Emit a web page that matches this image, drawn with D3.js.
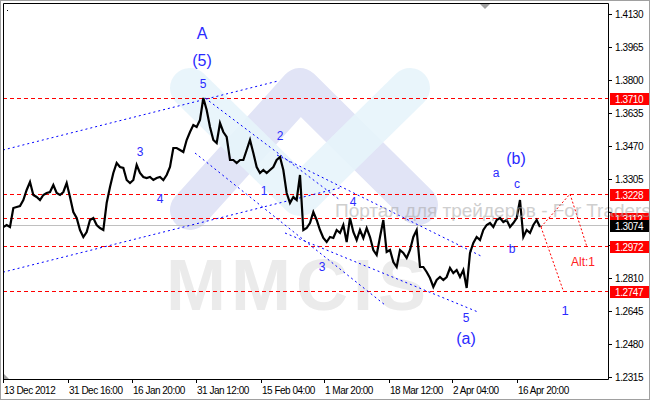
<!DOCTYPE html>
<html>
<head>
<meta charset="utf-8">
<script src="https://cdn.jsdelivr.net/npm/d3@7"></script>
<style>
  html, body { margin: 0; padding: 0; background: #fff; }
  svg { display: block; font-family: "Liberation Sans", Arial, sans-serif; }
</style>
</head>
<body>
<svg id="chart" width="650" height="400"></svg>
<script>
// H4 closes, one value per bar
const closes = [
  1.3065, 1.3075, 1.3065, 1.3160, 1.3165, 1.3170, 1.3200, 1.3250, 1.3290, 1.3225,
  1.3215, 1.3200, 1.3225, 1.3235, 1.3240, 1.3275, 1.3235, 1.3225, 1.3240, 1.3285,
  1.3215, 1.3140, 1.3110, 1.3050, 1.3015, 1.3040, 1.3100, 1.3110, 1.3075, 1.3060,
  1.3050, 1.3185, 1.3265, 1.3335, 1.3385, 1.3365, 1.3360, 1.3300, 1.3285, 1.3300,
  1.3375, 1.3335, 1.3315, 1.3310, 1.3315, 1.3300, 1.3310, 1.3315, 1.3300, 1.3325,
  1.3365, 1.3460, 1.3460, 1.3450, 1.3440, 1.3500, 1.3540, 1.3575, 1.3565, 1.3600,
  1.3710, 1.3650, 1.3565, 1.3500, 1.3485, 1.3585, 1.3540, 1.3515, 1.3400, 1.3400,
  1.3385, 1.3400, 1.3400, 1.3450, 1.3500, 1.3435, 1.3365, 1.3335, 1.3350, 1.3335,
  1.3350, 1.3365, 1.3400, 1.3415, 1.3350, 1.3235, 1.3185, 1.3215, 1.3200, 1.3325,
  1.3050, 1.3060, 1.3085, 1.3140, 1.3100, 1.3050, 1.3010, 1.2990, 1.3015, 1.3010,
  1.3050, 1.3035, 1.3075, 1.2990, 1.3110, 1.3040, 1.3000, 1.3050, 1.3010, 1.3060,
  1.3015, 1.2950, 1.2925, 1.3015, 1.3100, 1.2940, 1.2950, 1.2890, 1.2865, 1.2950,
  1.2935, 1.2910, 1.2950, 1.3015, 1.3050, 1.2865, 1.2865, 1.2840, 1.2810, 1.2765,
  1.2800, 1.2815, 1.2800, 1.2815, 1.2860, 1.2835, 1.2850, 1.2815, 1.2850, 1.2760,
  1.2935, 1.2985, 1.3015, 1.3000, 1.3050, 1.3075, 1.3085, 1.3065, 1.3100, 1.3110,
  1.3090, 1.3100, 1.3065, 1.3085, 1.3110, 1.3200, 1.3015, 1.3050, 1.3035, 1.3075,
  1.3100, 1.3065
]
const firstBar = 1

const dateLabels = ["13 Dec 2012", "31 Dec 16:00", "16 Jan 20:00", "31 Jan 12:00", "15 Feb 04:00",
  "1 Mar 20:00", "18 Mar 12:00", "2 Apr 04:00", "16 Apr 20:00"]
const dateTickBars = [0.9, 20.4, 39.6, 58.8, 78.3, 97.2, 116.7, 135.6, 155.1]

const priceTicks = [1.2315, 1.2480, 1.2645, 1.2810, 1.2975, 1.3140, 1.3305, 1.3470, 1.3635, 1.3800, 1.3965, 1.4130]
const levelPrices = [1.3710, 1.3228, 1.3112, 1.2972, 1.2747]
const lastPrice = 1.3074

// trend channels, [bar, price] end points
const channelLines = [
  [[0.9, 1.3450], [83.4, 1.3795]],
  [[0.9, 1.2839], [102.0, 1.3261]],
  [[61.5, 1.3710], [102.0, 1.3200]],
  [[58.5, 1.3435], [115.5, 1.2675]],
  [[83.1, 1.3425], [144.9, 1.2915]],
  [[85.5, 1.3035], [143.4, 1.2640]]
]
// forecast paths
const forecastPaths = [
  [[162.3, 1.3065], [171.0, 1.3230], [176.1, 1.2965]],
  [[162.3, 1.3065], [168.9, 1.2750]]
]

const waveLabels = [
  {text: "A", bar: 60.6, price: 1.4035, degree: "major"},
  {text: "(5)", bar: 60.6, price: 1.3900, degree: "major"},
  {text: "5", bar: 60.9, price: 1.3780, degree: "minor"},
  {text: "3", bar: 42.0, price: 1.3440, degree: "minor"},
  {text: "4", bar: 48.0, price: 1.3205, degree: "minor"},
  {text: "1", bar: 79.2, price: 1.3245, degree: "minor"},
  {text: "2", bar: 84.0, price: 1.3520, degree: "minor"},
  {text: "3", bar: 96.6, price: 1.2865, degree: "minor"},
  {text: "4", bar: 105.9, price: 1.3190, degree: "minor"},
  {text: "5", bar: 139.8, price: 1.2610, degree: "minor"},
  {text: "(a)", bar: 139.8, price: 1.2510, degree: "major"},
  {text: "a", bar: 148.8, price: 1.3335, degree: "minor"},
  {text: "b", bar: 153.6, price: 1.2955, degree: "minor"},
  {text: "c", bar: 155.1, price: 1.3280, degree: "minor"},
  {text: "(b)", bar: 154.8, price: 1.3410, degree: "major"},
  {text: "1", bar: 169.5, price: 1.2650, degree: "target"},
  {text: "Alt:1", bar: 174.9, price: 1.2890, degree: "alt"}
]

const W = 650, H = 400
const plot = {left: 3, top: 3, right: 608, bottom: 379}

const svg = d3.select("#chart")

const x = d3.scaleLinear().domain([0, 182.4]).range([0, 608])
const y = d3.scaleLinear().domain([1.2315, 1.4130]).range([377, 14])
const py = p => Math.round(y(p)) + 0.5

svg.append("rect").attr("width", W).attr("height", H).attr("fill", "#fff")

svg.append("defs").append("clipPath").attr("id", "plotClip")
  .append("rect")
  .attr("x", plot.left).attr("y", plot.top)
  .attr("width", plot.right - plot.left).attr("height", plot.bottom - plot.top)

// watermark logo
const logo = svg.append("g").attr("clip-path", "url(#plotClip)")
logo.append("path")
  .attr("d", "M190,210 L300,88 L418,205")
  .attr("fill", "none").attr("stroke", "#e1e4f6").attr("stroke-width", 40)
  .attr("stroke-linecap", "round").attr("stroke-linejoin", "round")
logo.append("path")
  .attr("d", "M190,88 L300,196 L410,88")
  .attr("fill", "none").attr("stroke", "#e7f4fb").attr("stroke-width", 40)
  .attr("stroke-linecap", "round").attr("stroke-linejoin", "round")
  .attr("opacity", 0.9)
logo.append("text")
  .attr("x", 166).attr("y", 310)
  .attr("font-size", 72).attr("font-weight", "bold").attr("letter-spacing", 5)
  .attr("fill", "#ebebeb")
  .text("MMCIS")

const g = svg.append("g").attr("clip-path", "url(#plotClip)")

// last price line
g.append("line")
  .attr("x1", plot.left).attr("x2", plot.right)
  .attr("y1", py(lastPrice)).attr("y2", py(lastPrice))
  .attr("stroke", "#c0c0c0")

// horizontal levels
g.selectAll(".level").data(levelPrices).join("line")
  .attr("class", "level")
  .attr("x1", plot.left).attr("x2", plot.right)
  .attr("y1", py).attr("y2", py)
  .attr("stroke", "#ff0000").attr("stroke-dasharray", "4,3")

// channels
g.selectAll(".channel").data(channelLines).join("line")
  .attr("class", "channel")
  .attr("x1", d => x(d[0][0])).attr("y1", d => y(d[0][1]))
  .attr("x2", d => x(d[1][0])).attr("y2", d => y(d[1][1]))
  .attr("stroke", "#0000ff").attr("stroke-dasharray", "2,3")

// forecast
const fLine = d3.line().x(d => x(d[0])).y(d => y(d[1]))
g.selectAll(".forecast").data(forecastPaths).join("path")
  .attr("class", "forecast")
  .attr("d", fLine)
  .attr("fill", "none").attr("stroke", "#ff0000").attr("stroke-dasharray", "2,2")

// right price axis
const tags = levelPrices.map(p => ({price: p, color: "#ff0000"}))
  .concat([{price: lastPrice, color: "#000"}])
// tick labels hidden under a price tag are not drawn (they'd be covered anyway)
const freeTicks = priceTicks.filter(t => tags.every(tg => Math.abs(y(t) - y(tg.price)) > 9))

const axisG = svg.append("g")
axisG.selectAll(".ptick").data(priceTicks).join("line")
  .attr("x1", plot.right).attr("x2", plot.right + 4)
  .attr("y1", py).attr("y2", py)
  .attr("stroke", "#000")
axisG.selectAll(".plabel").data(freeTicks).join("text")
  .attr("x", plot.right + 7).attr("y", d => y(d) + 4)
  .attr("font-size", 10).attr("letter-spacing", -0.4)
  .attr("fill", "#000")
  .text(d => d.toFixed(4))

const tag = axisG.selectAll(".tag").data(tags).join("g")
  .attr("transform", d => `translate(${plot.right + 2},${Math.round(y(d.price)) - 5})`)
tag.append("rect").attr("width", 40).attr("height", 12).attr("fill", d => d.color)
tag.append("text").attr("x", 5).attr("y", 10)
  .attr("font-size", 10).attr("letter-spacing", -0.4)
  .attr("fill", "#fff").text(d => d.price.toFixed(4))

// date axis
axisG.selectAll(".dtick").data(dateTickBars).join("line")
  .attr("x1", d => Math.round(x(d)) + 0.5).attr("x2", d => Math.round(x(d)) + 0.5)
  .attr("y1", plot.bottom).attr("y2", plot.bottom + 4)
  .attr("stroke", "#000")
axisG.selectAll(".dlabel").data(dateTickBars).join("text")
  .attr("x", d => x(d) + 1).attr("y", 394)
  .attr("font-size", 10).attr("letter-spacing", -0.5)
  .attr("fill", "#000")
  .text((d, i) => dateLabels[i])

// site watermark text
svg.append("text")
  .attr("x", 335).attr("y", 217)
  .attr("font-size", 19)
  .attr("fill", "#a8a8a8").attr("opacity", 0.55)
  .text("Портал для трейдеров - For Traders")

// price line
const priceLine = d3.line()
  .x((d, i) => x(i + firstBar))
  .y(d => y(d))
g.append("path")
  .datum(closes)
  .attr("d", priceLine)
  .attr("fill", "none").attr("stroke", "#000").attr("stroke-width", 2.2)
  .attr("stroke-linejoin", "miter")

// wave labels
const labelStyle = {
  major: {size: 16, color: "#2a2aff"},
  minor: {size: 12, color: "#2a2aff"},
  target: {size: 13, color: "#2a2aff"},
  alt: {size: 12, color: "#ff2020"}
}
g.selectAll(".wave").data(waveLabels).join("text")
  .attr("class", "wave")
  .attr("x", d => x(d.bar)).attr("y", d => y(d.price))
  .attr("text-anchor", "middle").attr("dominant-baseline", "central")
  .attr("font-size", d => labelStyle[d.degree].size)
  .attr("fill", d => labelStyle[d.degree].color)
  .text(d => d.text)

// frame
svg.append("rect").attr("x", 0.5).attr("y", 0.5).attr("width", W - 1).attr("height", H - 1)
  .attr("fill", "none").attr("stroke", "#a0a0a0")
svg.append("path")
  .attr("d", `M${plot.left + 0.5},${plot.bottom + 0.5} V${plot.top + 0.5} H${plot.right + 0.5} V${plot.bottom + 0.5} Z`)
  .attr("fill", "none").attr("stroke", "#000")
// chart shift markers
svg.append("path").attr("d", "M480,4 L490,4 L485,9 Z").attr("fill", "#a0a0a0")
svg.append("path").attr("d", "M4,374 L4,379 L9,379 Z").attr("fill", "#a0a0a0")
svg.append("rect").attr("x", 7).attr("y", 10).attr("width", 1).attr("height", 1).attr("fill", "#000")
</script>
</body>
</html>
